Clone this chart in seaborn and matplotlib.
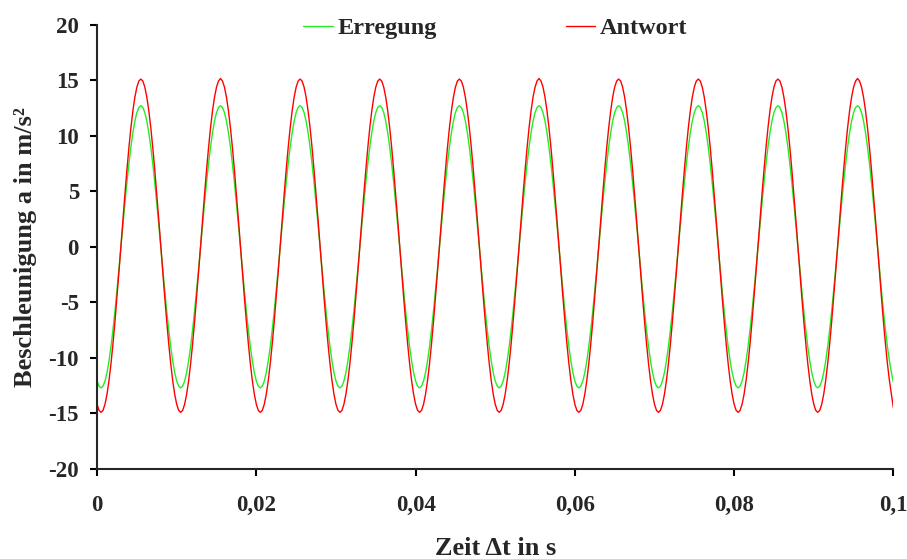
import numpy as np
import pandas as pd
import seaborn as sns
import matplotlib.pyplot as plt

# Zeitachse in s (Schrittweite 0,00025 s)
zeit = np.arange(401) * 0.00025

# Erregung in m/s² (zwei Zeilen = eine Periode)
erregung = [
    -12.08, -12.54, -12.7, -12.54, -12.08, -11.32, -10.27, -8.98, -7.46, -5.77, -3.92, -1.99, 0.0, 1.99, 3.92, 5.77, 7.46, 8.98, 10.27, 11.32,
    12.08, 12.54, 12.7, 12.54, 12.08, 11.32, 10.27, 8.98, 7.46, 5.77, 3.92, 1.99, 0.0, -1.99, -3.92, -5.77, -7.46, -8.98, -10.27, -11.32,
    -12.08, -12.54, -12.7, -12.54, -12.08, -11.32, -10.27, -8.98, -7.46, -5.77, -3.92, -1.99, 0.0, 1.99, 3.92, 5.77, 7.46, 8.98, 10.27, 11.32,
    12.08, 12.54, 12.7, 12.54, 12.08, 11.32, 10.27, 8.98, 7.46, 5.77, 3.92, 1.99, 0.0, -1.99, -3.92, -5.77, -7.46, -8.98, -10.27, -11.32,
    -12.08, -12.54, -12.7, -12.54, -12.08, -11.32, -10.27, -8.98, -7.46, -5.77, -3.92, -1.99, 0.0, 1.99, 3.92, 5.77, 7.46, 8.98, 10.27, 11.32,
    12.08, 12.54, 12.7, 12.54, 12.08, 11.32, 10.27, 8.98, 7.46, 5.77, 3.92, 1.99, 0.0, -1.99, -3.92, -5.77, -7.46, -8.98, -10.27, -11.32,
    -12.08, -12.54, -12.7, -12.54, -12.08, -11.32, -10.27, -8.98, -7.46, -5.77, -3.92, -1.99, 0.0, 1.99, 3.92, 5.77, 7.46, 8.98, 10.27, 11.32,
    12.08, 12.54, 12.7, 12.54, 12.08, 11.32, 10.27, 8.98, 7.46, 5.77, 3.92, 1.99, 0.0, -1.99, -3.92, -5.77, -7.46, -8.98, -10.27, -11.32,
    -12.08, -12.54, -12.7, -12.54, -12.08, -11.32, -10.27, -8.98, -7.46, -5.77, -3.92, -1.99, 0.0, 1.99, 3.92, 5.77, 7.46, 8.98, 10.27, 11.32,
    12.08, 12.54, 12.7, 12.54, 12.08, 11.32, 10.27, 8.98, 7.46, 5.77, 3.92, 1.99, 0.0, -1.99, -3.92, -5.77, -7.46, -8.98, -10.27, -11.32,
    -12.08, -12.54, -12.7, -12.54, -12.08, -11.32, -10.27, -8.98, -7.46, -5.77, -3.92, -1.99, 0.0, 1.99, 3.92, 5.77, 7.46, 8.98, 10.27, 11.32,
    12.08, 12.54, 12.7, 12.54, 12.08, 11.32, 10.27, 8.98, 7.46, 5.77, 3.92, 1.99, 0.0, -1.99, -3.92, -5.77, -7.46, -8.98, -10.27, -11.32,
    -12.08, -12.54, -12.7, -12.54, -12.08, -11.32, -10.27, -8.98, -7.46, -5.77, -3.92, -1.99, 0.0, 1.99, 3.92, 5.77, 7.46, 8.98, 10.27, 11.32,
    12.08, 12.54, 12.7, 12.54, 12.08, 11.32, 10.27, 8.98, 7.46, 5.77, 3.92, 1.99, 0.0, -1.99, -3.92, -5.77, -7.46, -8.98, -10.27, -11.32,
    -12.08, -12.54, -12.7, -12.54, -12.08, -11.32, -10.27, -8.98, -7.46, -5.77, -3.92, -1.99, 0.0, 1.99, 3.92, 5.77, 7.46, 8.98, 10.27, 11.32,
    12.08, 12.54, 12.7, 12.54, 12.08, 11.32, 10.27, 8.98, 7.46, 5.77, 3.92, 1.99, 0.0, -1.99, -3.92, -5.77, -7.46, -8.98, -10.27, -11.32,
    -12.08, -12.54, -12.7, -12.54, -12.08, -11.32, -10.27, -8.98, -7.46, -5.77, -3.92, -1.99, 0.0, 1.99, 3.92, 5.77, 7.46, 8.98, 10.27, 11.32,
    12.08, 12.54, 12.7, 12.54, 12.08, 11.32, 10.27, 8.98, 7.46, 5.77, 3.92, 1.99, 0.0, -1.99, -3.92, -5.77, -7.46, -8.98, -10.27, -11.32,
    -12.08, -12.54, -12.7, -12.54, -12.08, -11.32, -10.27, -8.98, -7.46, -5.77, -3.92, -1.99, 0.0, 1.99, 3.92, 5.77, 7.46, 8.98, 10.27, 11.32,
    12.08, 12.54, 12.7, 12.54, 12.08, 11.32, 10.27, 8.98, 7.46, 5.77, 3.92, 1.99, 0.0, -1.99, -3.92, -5.77, -7.46, -8.98, -10.27, -11.32,
    -12.2,
]

# Antwort in m/s²
antwort = [
    -14.17, -14.72, -14.9, -14.72, -14.17, -13.27, -12.04, -10.51, -8.72, -6.71, -4.54, -2.25, 0.1, 2.45, 4.74, 6.91, 8.92, 10.71, 12.24, 13.47,
    14.37, 14.92, 15.1, 14.92, 14.37, 13.47, 12.24, 10.71, 8.92, 6.91, 4.74, 2.45, 0.1, -2.25, -4.54, -6.71, -8.72, -10.51, -12.04, -13.27,
    -14.17, -14.72, -14.9, -14.72, -14.17, -13.27, -12.04, -10.51, -8.72, -6.71, -4.54, -2.25, 0.1, 2.45, 4.74, 6.91, 8.92, 10.71, 12.24, 13.47,
    14.37, 14.92, 15.15, 14.92, 14.37, 13.47, 12.24, 10.71, 8.92, 6.91, 4.74, 2.45, 0.1, -2.25, -4.54, -6.71, -8.72, -10.51, -12.04, -13.27,
    -14.17, -14.72, -14.9, -14.72, -14.17, -13.27, -12.04, -10.51, -8.72, -6.71, -4.54, -2.25, 0.1, 2.45, 4.74, 6.91, 8.92, 10.71, 12.24, 13.47,
    14.37, 14.92, 15.1, 14.92, 14.37, 13.47, 12.24, 10.71, 8.92, 6.91, 4.74, 2.45, 0.1, -2.25, -4.54, -6.71, -8.72, -10.51, -12.04, -13.27,
    -14.17, -14.72, -14.9, -14.72, -14.17, -13.27, -12.04, -10.51, -8.72, -6.71, -4.54, -2.25, 0.1, 2.45, 4.74, 6.91, 8.92, 10.71, 12.24, 13.47,
    14.37, 14.92, 15.1, 14.92, 14.37, 13.47, 12.24, 10.71, 8.92, 6.91, 4.74, 2.45, 0.1, -2.25, -4.54, -6.71, -8.72, -10.51, -12.04, -13.27,
    -14.17, -14.72, -14.9, -14.72, -14.17, -13.27, -12.04, -10.51, -8.72, -6.71, -4.54, -2.25, 0.1, 2.45, 4.74, 6.91, 8.92, 10.71, 12.24, 13.47,
    14.37, 14.92, 15.1, 14.92, 14.37, 13.47, 12.24, 10.71, 8.92, 6.91, 4.74, 2.45, 0.1, -2.25, -4.54, -6.71, -8.72, -10.51, -12.04, -13.27,
    -14.17, -14.72, -14.9, -14.72, -14.17, -13.27, -12.04, -10.51, -8.72, -6.71, -4.54, -2.25, 0.1, 2.45, 4.74, 6.91, 8.92, 10.71, 12.24, 13.47,
    14.37, 14.92, 15.15, 14.92, 14.37, 13.47, 12.24, 10.71, 8.92, 6.91, 4.74, 2.45, 0.1, -2.25, -4.54, -6.71, -8.72, -10.51, -12.04, -13.27,
    -14.17, -14.72, -14.9, -14.72, -14.17, -13.27, -12.04, -10.51, -8.72, -6.71, -4.54, -2.25, 0.1, 2.45, 4.74, 6.91, 8.92, 10.71, 12.24, 13.47,
    14.37, 14.92, 15.1, 14.92, 14.37, 13.47, 12.24, 10.71, 8.92, 6.91, 4.74, 2.45, 0.1, -2.25, -4.54, -6.71, -8.72, -10.51, -12.04, -13.27,
    -14.17, -14.72, -14.9, -14.72, -14.17, -13.27, -12.04, -10.51, -8.72, -6.71, -4.54, -2.25, 0.1, 2.45, 4.74, 6.91, 8.92, 10.71, 12.24, 13.47,
    14.37, 14.92, 15.1, 14.92, 14.37, 13.47, 12.24, 10.71, 8.92, 6.91, 4.74, 2.45, 0.1, -2.25, -4.54, -6.71, -8.72, -10.51, -12.04, -13.27,
    -14.17, -14.72, -14.9, -14.72, -14.17, -13.27, -12.04, -10.51, -8.72, -6.71, -4.54, -2.25, 0.1, 2.45, 4.74, 6.91, 8.92, 10.71, 12.24, 13.47,
    14.37, 14.92, 15.1, 14.92, 14.37, 13.47, 12.24, 10.71, 8.92, 6.91, 4.74, 2.45, 0.1, -2.25, -4.54, -6.71, -8.72, -10.51, -12.04, -13.27,
    -14.17, -14.72, -14.9, -14.72, -14.17, -13.27, -12.04, -10.51, -8.72, -6.71, -4.54, -2.25, 0.1, 2.45, 4.74, 6.91, 8.92, 10.71, 12.24, 13.47,
    14.37, 14.92, 15.15, 14.92, 14.37, 13.47, 12.24, 10.71, 8.92, 6.91, 4.74, 2.45, 0.1, -2.25, -4.54, -6.71, -8.72, -10.51, -12.04, -13.27,
    -14.5,
]

x_ticks = [0, 0.02, 0.04, 0.06, 0.08, 0.1]
x_labels = ['0', '0,02', '0,04', '0,06', '0,08', '0,1']
y_ticks = [-20, -15, -10, -5, 0, 5, 10, 15, 20]

df = pd.DataFrame({
    'zeit': np.concatenate([zeit, zeit]),
    'wert': erregung + antwort,
    'serie': ['Erregung'] * len(zeit) + ['Antwort'] * len(zeit),
})

sns.set_style('ticks')
plt.rcParams['font.family'] = ['Liberation Serif', 'DejaVu Serif']
plt.rcParams['font.weight'] = 'bold'
plt.rcParams['axes.unicode_minus'] = False

fig = plt.figure(figsize=(9.07, 5.59), dpi=100)
ax = fig.add_axes([0.107, 0.161, 0.878, 0.795])

sns.lineplot(data=df, x='zeit', y='wert', hue='serie',
             palette={'Erregung': '#22ee22', 'Antwort': '#ff0000'},
             linewidth=1.0, ax=ax)

ax.set_xlim(0, 0.1)
ax.set_ylim(-20, 20)
ax.set_xticks(x_ticks)
ax.set_xticklabels(x_labels)
ax.set_yticks(y_ticks)

ax.tick_params(axis='both', direction='out', width=1.5, length=5,
               labelsize=16.5, color='black')
ax.tick_params(axis='x', pad=14)
ax.tick_params(axis='y', pad=8)
for lab in ax.get_xticklabels() + ax.get_yticklabels():
    lab.set_fontweight('bold')

ax.spines['top'].set_visible(False)
ax.spines['right'].set_visible(False)
ax.spines['left'].set_linewidth(1.5)
ax.spines['bottom'].set_linewidth(1.5)

# Achsenbeschriftung
ax.set_xlabel('Zeit Δt in s', fontsize=19, fontweight='bold', labelpad=15)
ax.set_ylabel('Beschleunigung a in m/s²', fontsize=19, fontweight='bold', labelpad=8)

ax.legend(loc='center', bbox_to_anchor=(0.5, 0.992), ncol=2, frameon=False,
          prop={'size': 17.5, 'weight': 'bold'}, handlelength=1.2,
          handletextpad=0.2, columnspacing=5.3)

fig.savefig('out.png', dpi=100)
